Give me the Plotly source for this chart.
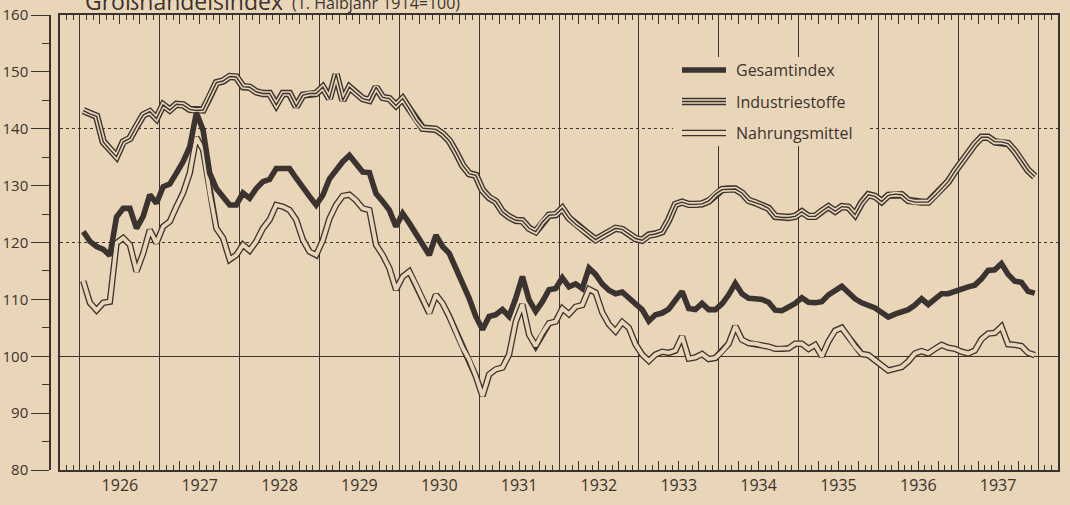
import plotly.graph_objects as go

# ---------------- data ----------------
years = list(range(1926, 1938))
year_labels = [str(y) for y in years]
y_tick_values = list(range(80, 161, 10))

# monthly values, Jan 1926 .. Dec 1937 (one row per year)
gesamtindex = [
    121.9, 120.2, 119.3, 118.8, 117.7, 124.5, 126.0, 126.0, 122.5, 124.6, 128.4, 126.9,
    129.8, 130.3, 132.2, 134.2, 136.8, 142.8, 139.8, 132.2, 129.5, 128.1, 126.6, 126.6,
    128.7, 127.8, 129.5, 130.7, 131.1, 133.0, 133.0, 133.0, 131.3, 129.5, 128.1, 126.6,
    128.3, 131.2, 132.7, 134.2, 135.3, 134.0, 132.4, 132.3, 128.6, 127.2, 125.7, 122.8,
    125.1, 123.4, 121.6, 119.9, 117.8, 121.3, 119.3, 118.1, 115.5, 112.6, 110.2, 107.0,
    104.7, 107.0, 107.3, 108.2, 107.0, 110.2, 114.0, 109.9, 107.9, 109.6, 111.7, 111.9,
    113.8, 112.2, 112.7, 111.9, 115.5, 114.4, 112.7, 111.6, 111.0, 111.3, 110.4, 109.2,
    108.2, 106.2, 107.3, 107.6, 108.3, 109.7, 111.4, 108.4, 108.2, 109.3, 108.2, 108.2,
    109.2, 110.8, 112.8, 111.0, 110.2, 110.1, 110.0, 109.5, 108.1, 108.0, 108.6, 109.3,
    110.3, 109.5, 109.4, 109.6, 110.8, 111.7, 112.3, 111.2, 110.1, 109.4, 108.9, 108.5,
    107.7, 106.9, 107.4, 107.9, 108.2, 109.0, 110.1, 109.1, 110.2, 111.0, 111.0, 111.4,
    112.0, 112.2, 112.5, 113.6, 115.1, 115.2, 116.3, 114.4, 113.2, 113.0, 111.4, 111.1,
]

industriestoffe = [
    143.2, 142.6, 142.2, 137.7, 136.3, 135.1, 137.7, 138.3, 140.4, 142.4, 143.0, 141.8,
    144.2, 143.3, 144.3, 144.2, 143.4, 143.2, 143.3, 145.6, 148.1, 148.4, 149.2, 149.1,
    147.4, 147.3, 146.5, 146.2, 146.2, 144.2, 146.2, 146.2, 143.9, 145.9, 146.2, 146.2,
    147.3, 145.3, 149.6, 145.0, 147.3, 146.3, 145.3, 145.0, 147.3, 145.5, 145.3, 144.1,
    145.3, 143.5, 141.5, 140.1, 140.0, 139.9, 139.1, 137.9, 135.9, 133.6, 132.1, 131.8,
    129.2, 127.9, 127.2, 125.4, 124.5, 123.9, 123.8, 122.5, 121.9, 123.6, 124.8, 124.9,
    126.0, 124.3, 123.2, 122.4, 121.4, 120.5, 121.2, 121.9, 122.5, 122.3, 121.5, 120.7,
    120.4, 121.3, 121.5, 121.9, 124.0, 126.7, 127.1, 126.7, 126.7, 126.8, 127.3, 128.5,
    129.3, 129.4, 129.4, 128.7, 127.4, 127.0, 126.6, 126.0, 124.6, 124.4, 124.4, 124.6,
    125.4, 124.6, 124.6, 125.5, 126.3, 125.5, 126.3, 126.2, 124.9, 127.0, 128.4, 128.1,
    127.2, 128.3, 128.5, 128.4, 127.4, 127.1, 127.1, 127.1, 128.2, 129.4, 130.7, 132.5,
    134.2, 135.7, 137.3, 138.5, 138.5, 137.7, 137.7, 137.4, 136.1, 134.4, 132.7, 131.6,
]

nahrungsmittel = [
    113.2, 109.4, 108.1, 109.4, 109.6, 119.9, 120.8, 119.6, 114.9, 118.1, 122.2, 119.9,
    122.8, 123.7, 126.3, 128.7, 132.2, 138.5, 136.3, 128.7, 122.5, 120.8, 117.0, 117.8,
    119.6, 118.6, 120.2, 122.5, 124.0, 126.6, 126.3, 125.7, 124.0, 120.5, 118.4, 117.8,
    120.4, 124.2, 126.6, 128.2, 128.4, 127.4, 126.0, 125.7, 119.6, 117.8, 115.5, 111.7,
    114.0, 114.9, 112.6, 110.2, 107.6, 110.8, 109.3, 107.0, 104.4, 101.5, 99.4, 96.5,
    93.0, 96.8, 97.7, 98.0, 100.3, 106.1, 109.1, 103.8, 101.8, 104.1, 105.8, 106.1,
    108.4, 107.4, 108.7, 109.0, 111.8, 111.2, 107.7, 105.6, 104.4, 106.0, 105.0, 102.1,
    100.3, 99.2, 100.3, 100.8, 100.6, 101.0, 103.5, 99.6, 99.8, 100.4, 99.5, 99.7,
    100.8, 102.2, 105.3, 102.9, 102.3, 102.2, 101.9, 101.7, 101.3, 101.3, 101.4, 102.2,
    102.2, 101.3, 102.0, 100.0, 102.6, 104.5, 105.0, 103.4, 101.7, 100.4, 100.2, 99.3,
    98.4, 97.5, 97.8, 98.1, 99.1, 100.5, 100.9, 100.5, 101.3, 102.0, 101.5, 101.3,
    100.8, 100.5, 101.0, 103.0, 104.0, 104.1, 105.2, 102.1, 102.0, 101.8, 100.6, 100.2,
]

series_names = ["Gesamtindex", "Industriestoffe", "Nahrungsmittel"]
title_main = "Großhandelsindex"
title_sub = "(1. Halbjahr 1914=100)"

# ---------------- style ----------------
BG = "#e9d6b8"
INK = "#3b332f"
FONT = "Open Sans"

# month mid-points as decimal years
x_months = [y + (m + 0.5) / 12 for y in years for m in range(12)]
x_range = [years[0] - 0.25, years[-1] + 1.25]
month_bounds = [x_range[0] + k / 12 for k in range(1, 150)]
quarter_bounds = [y + q for y in years for q in (0.25, 0.75)]
year_bounds = years + [years[-1] + 1]

fig = go.Figure()

def layered(y, layers, name):
    for col, w in layers:
        fig.add_trace(go.Scatter(
            x=x_months, y=y, mode="lines", name=name,
            line=dict(color=col, width=w), showlegend=False, hoverinfo="skip"))

NAHR_LAYERS = [(INK, 6.4), (BG, 3.8)]
IND_LAYERS = [(INK, 7.4), (BG, 4.6), (INK, 1.4)]
GES_LAYERS = [(INK, 5.6)]

layered(nahrungsmittel, NAHR_LAYERS, series_names[2])
layered(industriestoffe, IND_LAYERS, series_names[1])
layered(gesamtindex, GES_LAYERS, series_names[0])

# empty helper traces so the overlay axes get drawn
for xa, ya in (("x2", "y"), ("x", "y2"), ("x", "y3")):
    fig.add_trace(go.Scatter(x=[], y=[], xaxis=xa, yaxis=ya,
                             showlegend=False, hoverinfo="skip"))

L, R, T, B = 50, 12, 15, 35
W, H = 1070, 505
PW, PH = W - L - R, H - T - B

def px_x(px):
    return (px - L) / PW

def px_y(py):
    return (H - B - py) / PH

xdom = [px_x(60), 1]

fig.update_layout(
    width=W, height=H,
    margin=dict(l=L, r=R, t=T, b=B, pad=0, autoexpand=False),
    paper_bgcolor=BG, plot_bgcolor=BG,
    showlegend=False,
    font=dict(family=FONT, color=INK),
    xaxis=dict(
        range=x_range, domain=xdom, tickmode="array", automargin=False,
        tickvals=[y + 0.5 for y in years], ticktext=year_labels,
        ticks="inside", ticklen=9, tickwidth=1, tickcolor=INK,
        showline=True, linewidth=1.5, linecolor=INK, mirror="ticks",
        showgrid=False, zeroline=False, tickfont=dict(size=16, color=INK),
        minor=dict(tickmode="array", tickvals=month_bounds, ticks="inside",
                   ticklen=5, tickwidth=1, tickcolor=INK, showgrid=False),
    ),
    xaxis2=dict(
        range=x_range, domain=xdom, overlaying="x", anchor="y", automargin=False,
        tickmode="array", tickvals=quarter_bounds, ticks="inside", ticklen=9,
        tickwidth=1, tickcolor=INK, showticklabels=False, mirror="ticks",
        showline=False, showgrid=False, zeroline=False,
        minor=dict(tickmode="array", tickvals=year_bounds, ticks="",
                   showgrid=True, gridcolor=INK, gridwidth=1),
    ),
    yaxis=dict(
        range=[80, 160], anchor="free", position=0, side="left", automargin=False,
        tickmode="array", tickvals=y_tick_values,
        ticks="outside", ticklen=18, tickwidth=1.2, tickcolor=INK,
        showline=True, linewidth=1.5, linecolor=INK,
        showgrid=False, zeroline=False, tickfont=dict(size=15, color=INK),
        minor=dict(tickmode="array", tickvals=[v + 5 for v in y_tick_values[:-1]],
                   ticks="outside", ticklen=7, tickwidth=1.2, tickcolor=INK),
    ),
    yaxis2=dict(
        range=[80, 160], overlaying="y", anchor="x", tickmode="array", automargin=False,
        tickvals=[100], showgrid=True, gridcolor=INK, gridwidth=1.3,
        showticklabels=False, ticks="", showline=True, linewidth=1.5,
        linecolor=INK, mirror=True, zeroline=False,
    ),
    yaxis3=dict(
        range=[80, 160], overlaying="y", anchor="x", tickmode="array", automargin=False,
        tickvals=[120, 140], showgrid=True, gridcolor=INK, gridwidth=1,
        griddash="dot", showticklabels=False, ticks="", showline=False,
        zeroline=False,
    ),
)

# ---------------- legend (drawn by hand) ----------------
shapes = [dict(type="rect", xref="paper", yref="paper",
               x0=px_x(673), x1=px_x(870), y0=px_y(146), y1=px_y(57),
               fillcolor=BG, line=dict(width=0), layer="above")]
legend_rows = [(series_names[0], 70, GES_LAYERS),
               (series_names[1], 101.5, IND_LAYERS),
               (series_names[2], 133, NAHR_LAYERS)]
annotations = []
for name, ry, layers in legend_rows:
    for col, w in layers:
        shapes.append(dict(type="line", xref="paper", yref="paper",
                           x0=px_x(682), x1=px_x(726), y0=px_y(ry), y1=px_y(ry),
                           line=dict(color=col, width=w), layer="above"))
    annotations.append(dict(text=name, xref="paper", yref="paper",
                            x=px_x(734), y=px_y(ry), xanchor="left", yanchor="middle",
                            showarrow=False, font=dict(size=16, color=INK, family=FONT)))

# title, cut off by the top edge as in the scan
annotations.append(dict(text=title_main, xref="paper", yref="paper",
                        x=px_x(83), y=px_y(19), xanchor="left", yanchor="bottom",
                        showarrow=False, font=dict(size=23, color=INK, family=FONT)))
annotations.append(dict(text=title_sub, xref="paper", yref="paper",
                        x=px_x(290), y=px_y(16), xanchor="left", yanchor="bottom",
                        showarrow=False, font=dict(size=16, color=INK, family=FONT)))

fig.update_layout(shapes=shapes, annotations=annotations)

fig.write_html("out.html",
               config={"displayModeBar": False},
               post_script="document.body.style.margin='0';"
                           "document.body.style.background='" + BG + "';")
